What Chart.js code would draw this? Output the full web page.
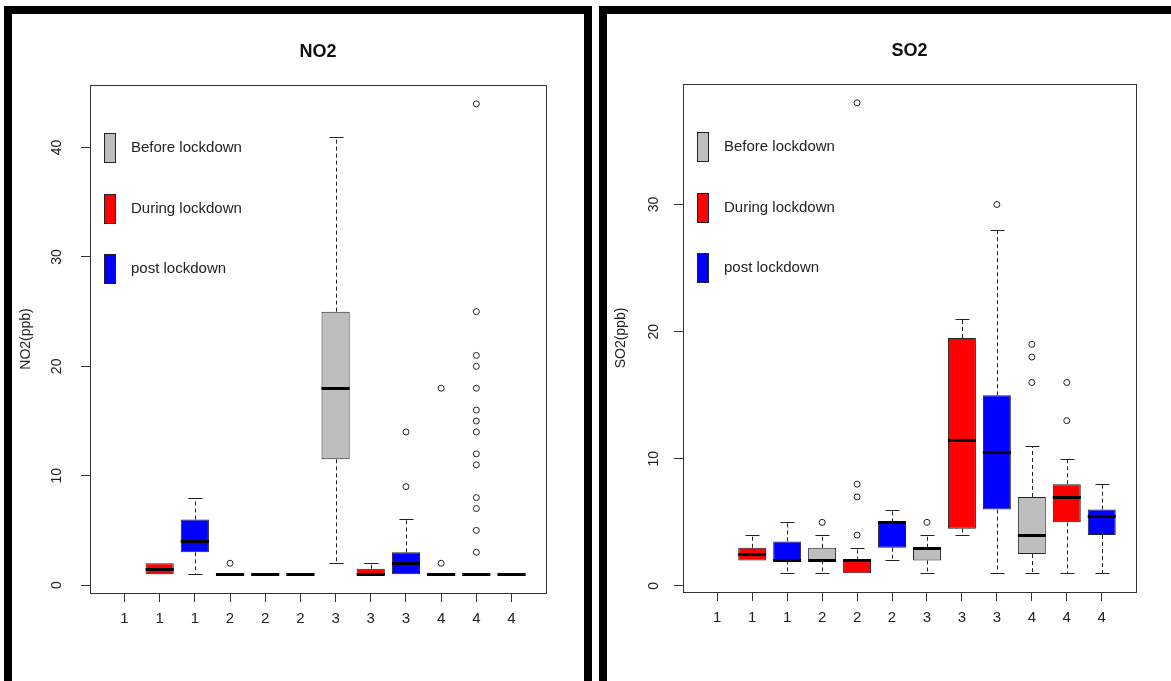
<!DOCTYPE html>
<html>
<head>
<meta charset="utf-8">
<title>NO2 / SO2 lockdown boxplots</title>
<script src="https://cdn.jsdelivr.net/npm/chart.js@4.4.1/dist/chart.umd.min.js"></script>
<style>
  html, body { margin: 0; padding: 0; background: #fff; overflow: hidden; }
  body { width: 1171px; height: 681px; position: relative; }
  .frame { position: absolute; box-sizing: border-box; border: 8px solid #000; top: 6px; height: 720px; }
  #frame-no2 { left: 4px; width: 588px; }
  #frame-so2 { left: 599px; width: 620px; }
  .plot { position: absolute; top: 14px; height: 667px; }
  #plot-no2 { left: 12px; width: 572px; }
  #plot-so2 { left: 607px; width: 564px; }
</style>
</head>
<body>
<div class="frame" id="frame-no2"></div>
<div class="frame" id="frame-so2"></div>
<div class="plot" id="plot-no2"><canvas id="no2Chart"></canvas></div>
<div class="plot" id="plot-so2"><canvas id="so2Chart"></canvas></div>
<script>
'use strict';

// ---------------------------------------------------------------------------
// data
// ---------------------------------------------------------------------------

const PERIOD_NAMES  = ['Before lockdown', 'During lockdown', 'post lockdown'];
const PERIOD_COLORS = ['#bebebe', '#ff0000', '#0000ff'];

// box positions 1..12: x tick label and period index of each box
const BOX_LABELS  = ['1', '1', '1', '2', '2', '2', '3', '3', '3', '4', '4', '4'];
const BOX_PERIODS = [0, 1, 2, 0, 1, 2, 0, 1, 2, 0, 1, 2];

// NO2 (ppb): lower whisker, Q1, median, Q3, upper whisker, outliers (null = no box)
const NO2_LOW      = [null, 1,   1, 1, 1, 1,  2,   1,   1, 1, 1, 1];
const NO2_Q1       = [null, 1,   3, 1, 1, 1, 11.5, 1,   1, 1, 1, 1];
const NO2_MEDIAN   = [null, 1.5, 4, 1, 1, 1, 18,   1,   2, 1, 1, 1];
const NO2_Q3       = [null, 2,   6, 1, 1, 1, 25,   1.5, 3, 1, 1, 1];
const NO2_HIGH     = [null, 2,   8, 1, 1, 1, 41,   2,   6, 1, 1, 1];
const NO2_OUTLIERS = [[], [], [], [2], [], [], [], [], [9, 14], [2, 18],
                      [3, 5, 7, 8, 11, 12, 14, 15, 16, 18, 20, 21, 25, 44], []];
const NO2_TICKS    = [0, 10, 20, 30, 40];

// SO2 (ppb)
const SO2_LOW      = [null, 2,   1,   1, 1, 2, 1, 4,    1,    1,   1,  1];
const SO2_Q1       = [null, 2,   2,   2, 1, 3, 2, 4.5,  6,    2.5, 5,  4];
const SO2_MEDIAN   = [null, 2.5, 2,   2, 2, 5, 3, 11.5, 10.5, 4,   7,  5.5];
const SO2_Q3       = [null, 3,   3.5, 3, 2, 5, 3, 19.5, 15,   7,   8,  6];
const SO2_HIGH     = [null, 4,   5,   4, 3, 6, 4, 21,   28,   11,  10, 8];
const SO2_OUTLIERS = [[], [], [], [5], [4, 7, 8, 38], [], [5], [], [30],
                      [16, 18, 19], [13, 16], []];
const SO2_TICKS    = [0, 10, 20, 30];

// ---------------------------------------------------------------------------
// helpers
// ---------------------------------------------------------------------------

const FONT_FAMILY = '"Liberation Sans", Arial, sans-serif';
const BOX_WIDTH = 0.8;          // R boxwex
Chart.defaults.font.family = FONT_FAMILY;
Chart.defaults.color = '#222';

// R style axis range: data range stretched by 4 % on both sides
function paddedRange(lo, hi) {
    const ext = (hi - lo) * 0.04;
    return { min: lo - ext, max: hi + ext };
}

// whiskers (dashed) and staples, drawn under the boxes
const boxWhiskerPlugin = {
    id: 'boxWhiskers',
    beforeDatasetsDraw(chart, args, opts) {
        const { ctx, scales: { x, y } } = chart;
        ctx.save();
        ctx.strokeStyle = '#222';
        ctx.lineWidth = 1;
        opts.low.forEach((lo, i) => {
            if (lo == null) return;
            const pos = i + 1;
            const cx = Math.round(x.getPixelForValue(pos)) + 0.5;
            const halfCap = (x.getPixelForValue(pos + BOX_WIDTH / 4) - x.getPixelForValue(pos));
            [[opts.q3[i], opts.high[i]], [opts.q1[i], lo]].forEach(([from, to]) => {
                if (from === to) return;
                const y0 = y.getPixelForValue(from);
                const y1 = Math.round(y.getPixelForValue(to)) + 0.5;
                ctx.setLineDash([4, 3]);
                ctx.beginPath(); ctx.moveTo(cx, y0); ctx.lineTo(cx, y1); ctx.stroke();
                ctx.setLineDash([]);
                ctx.beginPath(); ctx.moveTo(cx - halfCap, y1); ctx.lineTo(cx + halfCap, y1); ctx.stroke();
            });
        });
        ctx.restore();
    },
    // thick median bar over each box
    afterDatasetsDraw(chart, args, opts) {
        const { ctx, scales: { x, y } } = chart;
        ctx.save();
        ctx.strokeStyle = '#000';
        ctx.lineWidth = 3;
        opts.median.forEach((m, i) => {
            if (m == null) return;
            const pos = i + 1;
            const x0 = x.getPixelForValue(pos - BOX_WIDTH / 2);
            const x1 = x.getPixelForValue(pos + BOX_WIDTH / 2);
            const ym = Math.round(y.getPixelForValue(m)) + 0.5;
            ctx.beginPath(); ctx.moveTo(x0, ym); ctx.lineTo(x1, ym); ctx.stroke();
        });
        ctx.restore();
    },
};

// plot box frame + legend inside the top-left corner
const frameLegendPlugin = {
    id: 'frameLegend',
    afterDraw(chart) {
        const { ctx, chartArea: a } = chart;
        ctx.save();
        ctx.strokeStyle = '#333';
        ctx.lineWidth = 1;
        ctx.strokeRect(Math.round(a.left) + 0.5, Math.round(a.top) + 0.5,
                       Math.round(a.right - a.left), Math.round(a.bottom - a.top));

        ctx.font = '15px ' + FONT_FAMILY;
        ctx.textBaseline = 'middle';
        PERIOD_NAMES.forEach((name, i) => {
            const cy = Math.round(a.top + 63 + i * 60.5);
            const bx = Math.round(a.left + 14);
            ctx.fillStyle = PERIOD_COLORS[i];
            ctx.fillRect(bx, cy - 15, 12, 30);
            ctx.strokeStyle = '#222';
            ctx.strokeRect(bx + 0.5, cy - 14.5, 11, 29);
            ctx.fillStyle = '#222';
            ctx.fillText(name, a.left + 41, cy);
        });
        ctx.restore();
    },
};

// ---------------------------------------------------------------------------
// chart
// ---------------------------------------------------------------------------

function renderBoxChart(canvasId, spec) {
    const stats = spec.stats;
    const all = [];
    stats.low.forEach((v, i) => {
        if (v == null) return;
        all.push(v, stats.high[i], ...spec.outliers[i]);
    });
    const yRange = paddedRange(Math.min(...all), Math.max(...all));
    const xRange = paddedRange(0.5, BOX_LABELS.length + 0.5);

    const datasets = PERIOD_NAMES.map((name, p) => ({
        type: 'bar',
        label: name,
        data: BOX_PERIODS
            .map((per, i) => (per === p && stats.low[i] != null)
                ? { x: i + 1, y: [stats.q1[i], stats.q3[i]] } : null)
            .filter(Boolean),
        backgroundColor: PERIOD_COLORS[p],
        borderColor: '#222',
        borderWidth: 1,
        borderSkipped: false,
        grouped: false,
        categoryPercentage: 1,
        barPercentage: BOX_WIDTH,
        order: 2,
    }));

    datasets.push({
        type: 'scatter',
        label: 'outliers',
        data: spec.outliers.flatMap((vals, i) => vals.map(v => ({ x: i + 1, y: v }))),
        pointStyle: 'circle',
        pointRadius: 3,
        borderWidth: 1,
        borderColor: '#222',
        backgroundColor: 'rgba(0,0,0,0)',
        order: 1,
    });

    return new Chart(document.getElementById(canvasId), {
        type: 'bar',
        data: { datasets },
        plugins: [boxWhiskerPlugin, frameLegendPlugin],
        options: {
            responsive: true,
            maintainAspectRatio: false,
            animation: false,
            events: [],
            layout: { padding: { left: 0, top: 0, right: spec.padRight, bottom: spec.padBottom } },
            plugins: {
                legend: { display: false },
                tooltip: { enabled: false },
                title: {
                    display: true,
                    text: spec.title,
                    fullSize: false,
                    color: '#111',
                    font: { size: 18, weight: 'bold' },
                    padding: spec.titlePadding,
                },
                boxWhiskers: stats,
            },
            scales: {
                x: {
                    type: 'linear',
                    min: xRange.min,
                    max: xRange.max,
                    offset: false,
                    grid: { offset: false, drawOnChartArea: false, tickLength: 9, tickColor: '#333' },
                    border: { display: false },
                    afterBuildTicks: (scale) => { scale.ticks = BOX_LABELS.map((_, i) => ({ value: i + 1 })); },
                    afterFit: (scale) => { scale.height = 40; },
                    ticks: {
                        autoSkip: false,
                        maxRotation: 0,
                        minRotation: 0,
                        padding: 8,
                        font: { size: 15 },
                        callback: (value, index) => BOX_LABELS[index],
                    },
                },
                y: {
                    type: 'linear',
                    min: yRange.min,
                    max: yRange.max,
                    grid: { drawOnChartArea: false, tickLength: 9, tickColor: '#333' },
                    border: { display: false },
                    afterBuildTicks: (scale) => { scale.ticks = spec.ticks.map(v => ({ value: v })); },
                    afterFit: (scale) => { scale.width = spec.yAxisWidth; },
                    ticks: {
                        minRotation: 90,
                        maxRotation: 90,
                        crossAlign: 'center',
                        padding: spec.yTickPadding,
                        font: { size: 14 },
                    },
                    title: {
                        display: true,
                        text: spec.yTitle,
                        font: { size: 14 },
                        padding: { top: spec.yTitlePadding, bottom: 0 },
                    },
                },
            },
        },
    });
}

renderBoxChart('no2Chart', {
    title: 'NO2',
    yTitle: 'NO2(ppb)',
    ticks: NO2_TICKS,
    stats: { low: NO2_LOW, q1: NO2_Q1, median: NO2_MEDIAN, q3: NO2_Q3, high: NO2_HIGH },
    outliers: NO2_OUTLIERS,
    yAxisWidth: 78,
    padRight: 38,
    padBottom: 48,
    titlePadding: { top: 27, bottom: 22.4 },
    yTickPadding: 16,
    yTitlePadding: 5.5,
});

renderBoxChart('so2Chart', {
    title: 'SO2',
    yTitle: 'SO2(ppb)',
    ticks: SO2_TICKS,
    stats: { low: SO2_LOW, q1: SO2_Q1, median: SO2_MEDIAN, q3: SO2_Q3, high: SO2_HIGH },
    outliers: SO2_OUTLIERS,
    yAxisWidth: 76,
    padRight: 35,
    padBottom: 49,
    titlePadding: { top: 26, bottom: 22.4 },
    yTickPadding: 12,
    yTitlePadding: 6,
});
</script>
</body>
</html>
